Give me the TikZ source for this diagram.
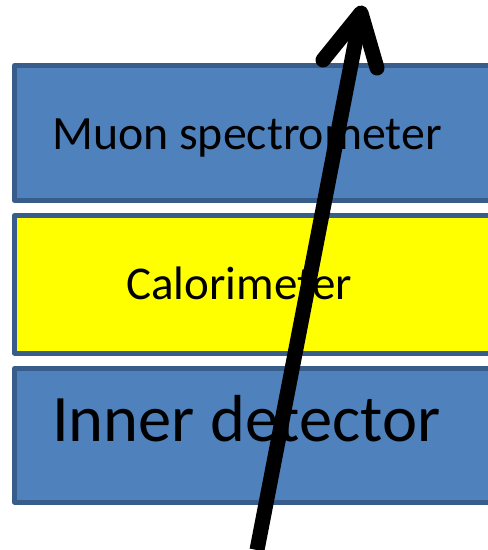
\documentclass[tikz,border=0pt]{standalone}
\usepackage{fontspec}
\setmainfont{Carlito}
\definecolor{layerblue}{HTML}{4F81BD}
\definecolor{layeredge}{HTML}{385D8A}
\definecolor{layeryellow}{HTML}{FFFF00}
\begin{document}
\begin{tikzpicture}[x=1pt,y=-1pt,
  layer/.style={draw=layeredge,line width=5pt,line join=round},
  lbl/.style={anchor=base west,inner sep=0pt,text=black},
  trackline/.style={line width=15pt,draw=black}]
\useasboundingbox (0,0) rectangle (488,550);
\clip (0,0) rectangle (488,550);
\path[layer,fill=layerblue] (14.5,65.5) rectangle (505,200.5);
\path[layer,fill=layeryellow] (14.5,215.5) rectangle (505,353);
\path[layer,fill=layerblue] (14.5,368.5) rectangle (505,502);
\node[lbl,font=\fontsize{47.8}{56}\selectfont] (muon) at (52,149) {Muon spectrometer};
\node[lbl,font=\fontsize{47}{56}\selectfont] (calo) at (126,299) {Calorimeter};
\node[lbl,font=\fontsize{66.5}{78}\selectfont] (inner) at (52,441) {Inner detector};
\coordinate (tail) at (257,550);
\coordinate (tip) at (361,13);
\coordinate (wl) at (323,60);
\coordinate (wr) at (377,68);
\draw[trackline,line cap=butt] (tail) -- (tip);
\draw[trackline,line cap=round,line join=round] (wl) -- (tip) -- (wr);
\end{tikzpicture}
\end{document}
